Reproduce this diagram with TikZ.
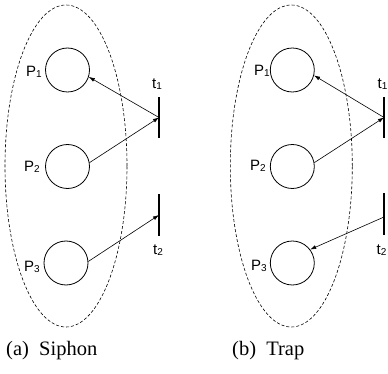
\documentclass[tikz,border=0pt]{standalone}
\usepackage{fontspec}
\setmainfont{Liberation Serif}
\newfontfamily\labfont{Liberation Sans}
\usetikzlibrary{arrows.meta,positioning,shapes.geometric}

\newcommand\sublab[2]{#1\raisebox{-1.5pt}{\fontsize{10}{10}\selectfont #2}}

\begin{document}
\begin{tikzpicture}[
    x=1pt, y=-1pt,
    >={Latex[length=6pt,width=4pt]},
    place/.style={draw, circle, minimum size=44pt, inner sep=0pt, line width=0.8pt},
    trans/.style={fill=black, minimum width=1.2pt, minimum height=41pt, inner sep=0pt},
    lab/.style={font=\labfont\fontsize{15}{15}\selectfont, inner sep=0pt},
    region/.style={draw, dashed, line width=0.6pt, dash pattern=on 3pt off 2pt},
    subcap/.style={font=\fontsize{20.5}{24}\selectfont, inner sep=0pt, anchor=west},
    arc/.style={->, line width=0.6pt},
]
\useasboundingbox (0,0) rectangle (388,374);

% (a) siphon
\node[region, ellipse, minimum width=122pt, minimum height=322pt] (sa) at (66,166) {};
\node[place] (p1) at (67.5,70) {};
\node[place] (p2) at (67.5,166.5) {};
\node[place] (p3) at (66,263) {};
\node[trans] (t1) at (159,117.5) {};
\node[trans] (t2) at (159,215) {};
\node[lab] (lp1) at (34,72) {\sublab{P}{1}};
\node[lab] (lp2) at (32,167) {\sublab{P}{2}};
\node[lab] (lp3) at (32,267) {\sublab{P}{3}};
\node[lab] (lt1) at (157,84) {\sublab{t}{1}};
\node[lab] (lt2) at (158,250) {\sublab{t}{2}};
\draw[arc] (t1.center) -- (p1.-18);
\draw[arc] (p2.10) -- (t1.center);
\draw[arc] (p3.4) -- (t2.center);
\node[subcap] (ca) at (6,351) {(a)\ \ Siphon};

% (b) trap
\node[region, ellipse, minimum width=122pt, minimum height=322pt] (sb) at (291.3,166) {};
\node[place] (q1) at (292.3,70) {};
\node[place] (q2) at (292.3,166.5) {};
\node[place] (q3) at (292.3,263) {};
\node[trans] (u1) at (384,117.5) {};
\node[trans] (u2) at (384,214) {};
\coordinate (u2s) at ([yshift=-3pt]u2.center);
\node[lab] (lq1) at (262,71) {\sublab{P}{1}};
\node[lab] (lq2) at (258,166) {\sublab{P}{2}};
\node[lab] (lq3) at (259,266) {\sublab{P}{3}};
\node[lab] (lu1) at (382.5,84) {\sublab{t}{1}};
\node[lab] (lu2) at (381.5,250) {\sublab{t}{2}};
\draw[arc] (u1.center) -- (q1.-14);
\draw[arc] (q2.10) -- (u1.center);
\draw[arc] (u2s) -- (q3.37);
\node[subcap] (cb) at (232,351) {(b)\ \ Trap};

\end{tikzpicture}
\end{document}
